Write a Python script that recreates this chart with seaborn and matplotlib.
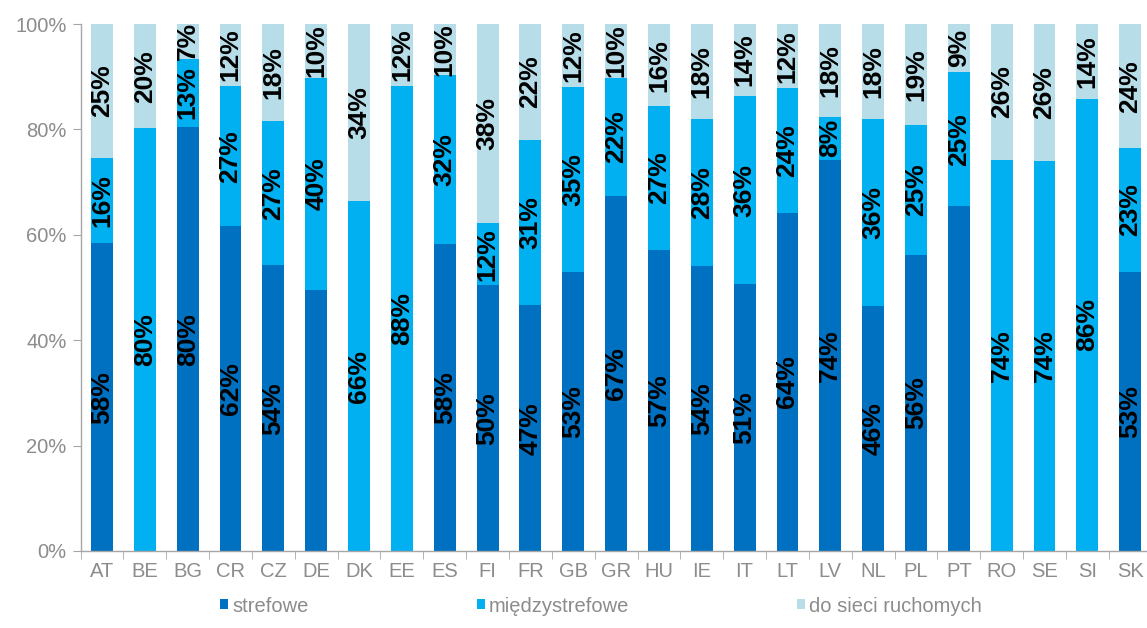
import matplotlib
matplotlib.use("Agg")

import matplotlib.pyplot as plt
import seaborn as sns
import pandas as pd
from matplotlib.patches import Patch
from matplotlib.ticker import FixedLocator, PercentFormatter

countries = ["AT", "BE", "BG", "CR", "CZ", "DE", "DK", "EE", "ES", "FI", "FR", "GB", "GR",
             "HU", "IE", "IT", "LT", "LV", "NL", "PL", "PT", "RO", "SE", "SI", "SK"]
strefowe = [58.4, 0, 80.4, 61.6, 54.2, 49.6, 0, 0, 58.2, 50.4, 46.6, 53.0, 67.4,
            57.2, 54.0, 50.6, 64.2, 74.2, 46.4, 56.2, 65.4, 0, 0, 0, 53.0]
miedzystrefowe = [16.2, 80.2, 13.0, 26.6, 27.4, 40.2, 66.4, 88.3, 32.2, 11.8, 31.4, 35.0, 22.4,
                  27.2, 28.0, 35.8, 23.6, 8.2, 35.6, 24.6, 25.4, 74.2, 74.0, 85.8, 23.4]
ruchome = [25.4, 19.8, 6.6, 11.8, 18.4, 10.2, 33.6, 11.7, 9.6, 37.8, 22.0, 12.0, 10.2,
           15.6, 18.0, 13.6, 12.2, 17.6, 18.0, 19.2, 9.2, 25.8, 26.0, 14.2, 23.6]
series_names = ["strefowe", "międzystrefowe", "do sieci ruchomych"]
colors = ["#0070C0", "#00B0F0", "#B7DDE8"]
# labels missing in the original chart
hidden = {("strefowe", "DE"), ("strefowe", "PT")}

df = pd.DataFrame({"kraj": countries, "strefowe": strefowe,
                   "międzystrefowe": miedzystrefowe, "do sieci ruchomych": ruchome})
df["c1"] = df["strefowe"]
df["c2"] = df["c1"] + df["międzystrefowe"]
df["c3"] = df["c2"] + df["do sieci ruchomych"]

sns.set_style("white")
plt.rcParams["font.family"] = ["Liberation Sans", "DejaVu Sans"]

fig = plt.figure(figsize=(11.47, 6.28), dpi=100)
ax = fig.add_axes([80.6 / 1147, 1 - 551 / 628, 1071 / 1147, 527 / 628])

# draw cumulative totals from tallest to shortest
for col, color in zip(["c3", "c2", "c1"], colors[::-1]):
    sns.barplot(data=df, x="kraj", y=col, color=color, width=0.51,
                saturation=1, ax=ax, linewidth=0)

for name, low in zip(series_names, [None, "c1", "c2"]):
    for i, row in df.iterrows():
        val = row[name]
        if val <= 0 or (name, row["kraj"]) in hidden:
            continue
        bottom = 0 if low is None else row[low]
        ax.text(i, bottom + val / 2, f"{val:.0f}%", rotation=90, ha="center", va="center",
                fontsize=19, fontweight="bold", color="black")

ax.set_xlim(-0.5, len(countries) - 0.5)
ax.set_ylim(0, 100)
ax.yaxis.set_major_locator(FixedLocator([0, 20, 40, 60, 80, 100]))
ax.yaxis.set_major_formatter(PercentFormatter(decimals=0))
ax.set_xlabel("")
ax.set_ylabel("")

grey = "#8C8C8C"
for side in ["top", "right"]:
    ax.spines[side].set_visible(False)
for side in ["left", "bottom"]:
    ax.spines[side].set_color("#A6A6A6")
    ax.spines[side].set_linewidth(1)

ax.tick_params(axis="x", which="major", length=0, labelsize=14.5, labelcolor=grey, pad=8)
ax.set_xticks([i + 0.5 for i in range(-1, len(countries))], minor=True)
ax.tick_params(axis="x", which="minor", length=6, color="#A6A6A6", bottom=True)
ax.tick_params(axis="y", length=6, color="#A6A6A6", labelsize=14.5, labelcolor=grey,
               left=True, pad=4)

handles = [Patch(facecolor=c, edgecolor="none") for c in colors]
fig.legend(handles, series_names, loc="center", bbox_to_anchor=(601 / 1147, 1 - 606 / 628),
           ncol=3, frameon=False, fontsize=14.5, labelcolor="#8C8C8C",
           handlelength=0.4, handleheight=0.4, handletextpad=0.2, columnspacing=8.35)

plt.savefig("out.png", dpi=100)
plt.close()
